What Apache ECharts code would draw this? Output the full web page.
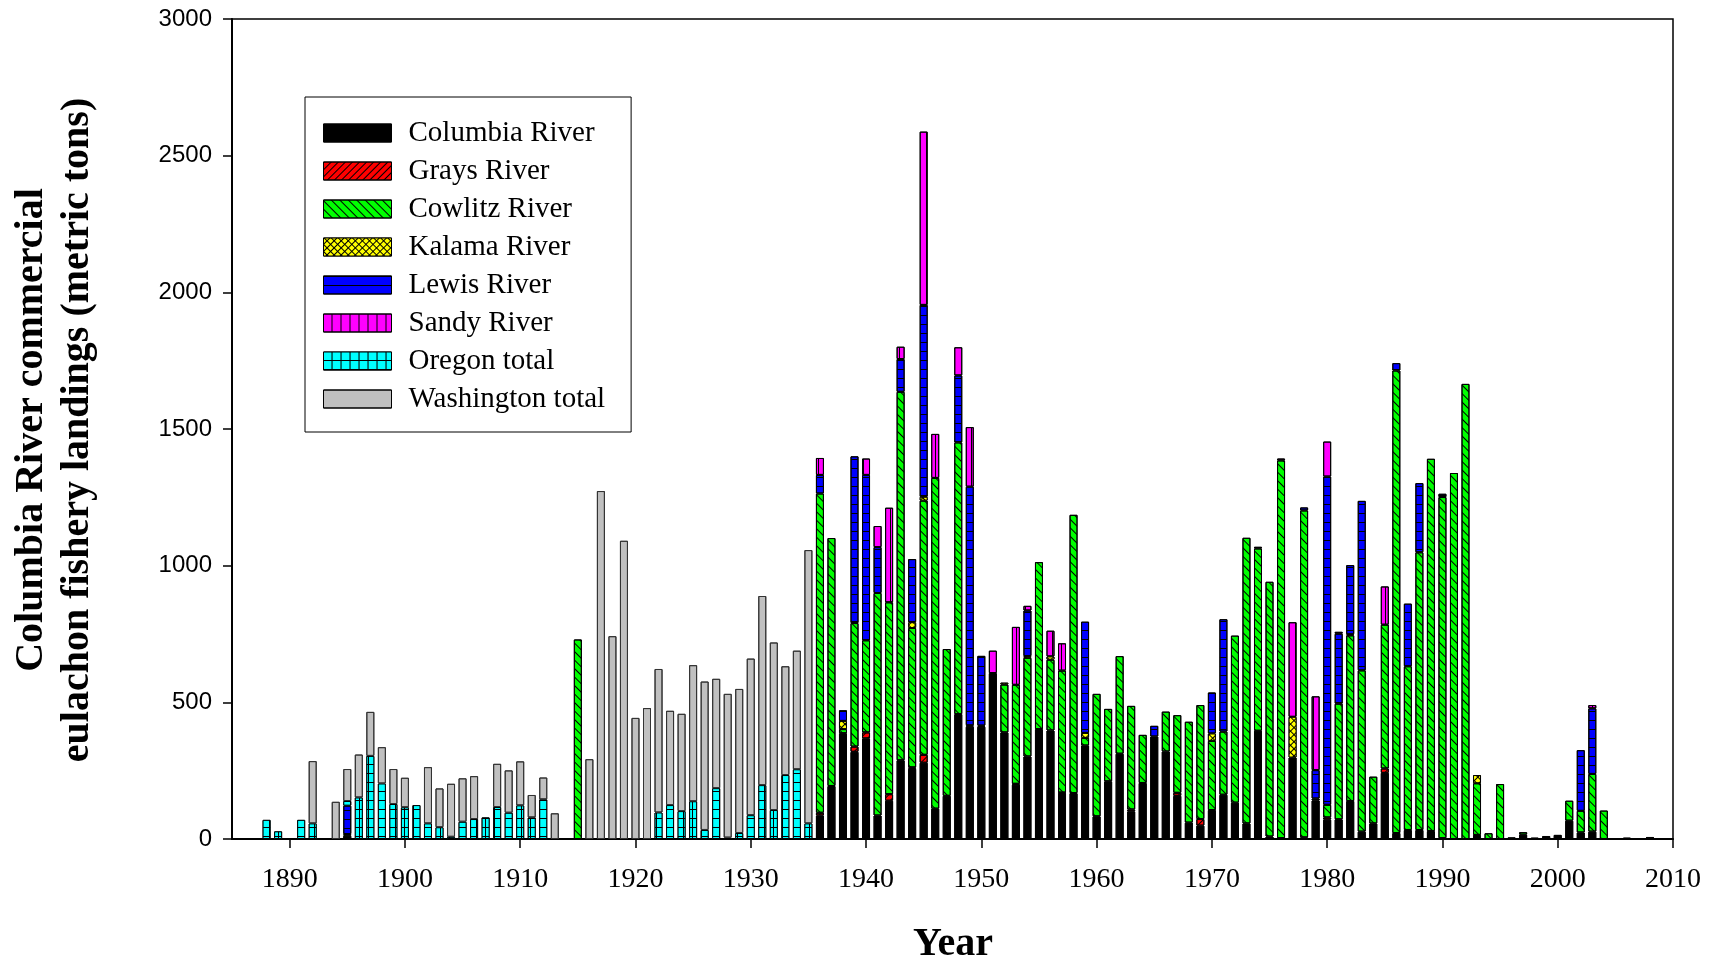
<!DOCTYPE html>
<html><head><meta charset="utf-8">
<script src="https://cdn.jsdelivr.net/npm/echarts@6/dist/echarts.min.js"></script>
<style>html,body{margin:0;padding:0;background:#fff}#c{width:1721px;height:961px}</style>
</head><body><div id="c"></div>
<script>
const firstYear = 1885, lastYear = 2010;
const tickYears = [1890, 1900, 1910, 1920, 1930, 1940, 1950, 1960, 1970, 1980, 1990, 2000, 2010];
const yTicks = [0, 500, 1000, 1500, 2000, 2500, 3000];

const columbia = [[1895,12],[1936,86],[1937,194],[1938,387],[1939,319],[1940,368],[1941,86],[1942,140],[1943,288],[1944,257],[1945,279],[1946,111],[1947,158],[1948,457],[1949,411],[1950,411],[1951,607],[1952,390],[1953,199],[1954,302],[1955,402],[1956,397],[1957,168],[1958,168],[1959,342],[1960,83],[1961,211],[1962,312],[1963,101],[1964,205],[1965,375],[1966,320],[1967,158],[1968,60],[1969,49],[1970,106],[1971,162],[1972,133],[1973,57],[1974,396],[1975,9],[1976,3],[1977,298],[1978,6],[1979,141],[1980,71],[1981,72],[1982,139],[1983,27],[1984,57],[1985,242],[1986,22],[1987,33],[1988,33],[1989,29],[1990,3],[1993,15],[1996,6],[1997,16],[1998,5],[1999,11],[2000,15],[2001,67],[2002,24],[2003,27],[2006,5],[2007,3],[2008,4]];
const grays = [[1936,10],[1939,19],[1940,22],[1942,24],[1944,5],[1945,29],[1949,5],[1950,4],[1953,3],[1957,2],[1963,7],[1967,11],[1969,24],[1980,8],[1985,16]];
const cowlitz = [[1895,6],[1915,730],[1936,1168],[1937,907],[1938,15],[1939,452],[1940,337],[1941,814],[1942,702],[1943,1348],[1944,510],[1945,930],[1946,1210],[1947,537],[1948,994],[1952,175],[1953,362],[1954,361],[1955,611],[1956,259],[1957,446],[1958,1018],[1959,28],[1960,448],[1961,265],[1962,357],[1963,379],[1964,176],[1966,146],[1967,284],[1968,369],[1969,417],[1970,253],[1971,231],[1972,611],[1973,1045],[1974,667],[1975,932],[1976,1382],[1978,1196],[1979,7],[1980,46],[1981,423],[1982,606],[1983,590],[1984,171],[1985,526],[1986,1692],[1987,599],[1988,1016],[1989,1362],[1990,1248],[1991,1339],[1992,1665],[1993,189],[1994,21],[1995,201],[1997,9],[2001,73],[2002,79],[2003,211],[2004,104],[2008,3]];
const kalama = [[1938,30],[1944,21],[1945,14],[1952,7],[1954,6],[1956,12],[1959,18],[1970,27],[1977,149],[1982,4],[1993,30]];
const lewis = [[1895,104],[1936,68],[1938,39],[1939,610],[1940,605],[1941,168],[1943,120],[1944,231],[1945,702],[1948,245],[1949,873],[1950,255],[1954,167],[1959,407],[1965,39],[1970,150],[1971,411],[1978,11],[1979,104],[1980,1201],[1981,256],[1982,253],[1983,620],[1986,27],[1987,229],[1988,253],[1990,12],[2002,222],[2003,240]];
const sandy = [[1936,62],[1940,60],[1941,77],[1942,346],[1943,45],[1945,634],[1946,161],[1948,103],[1949,218],[1951,82],[1953,212],[1954,17],[1956,94],[1957,100],[1974,6],[1976,7],[1977,346],[1979,270],[1980,128],[1981,7],[1985,140],[2003,12]];
const oregon = [[1888,70],[1889,28],[1891,70],[1892,57],[1895,17],[1896,152],[1897,304],[1898,203],[1899,128],[1900,116],[1901,124],[1902,57],[1903,43],[1904,8],[1905,63],[1906,73],[1907,79],[1908,117],[1909,96],[1910,123],[1911,79],[1912,145],[1922,97],[1923,124],[1924,102],[1925,138],[1926,33],[1927,186],[1928,5],[1929,22],[1930,87],[1931,197],[1932,106],[1933,234],[1934,255],[1935,57]];
const washington = [[1892,228],[1894,136],[1895,117],[1896,157],[1897,161],[1898,133],[1899,128],[1900,108],[1902,206],[1903,142],[1904,194],[1905,159],[1906,157],[1908,158],[1909,155],[1910,161],[1911,82],[1912,80],[1913,94],[1916,292],[1917,1273],[1918,742],[1919,1091],[1920,443],[1921,479],[1922,525],[1923,345],[1924,356],[1925,498],[1926,543],[1927,400],[1928,526],[1929,527],[1930,573],[1931,692],[1932,613],[1933,398],[1934,434],[1935,1000]];

const seriesNames = ['Columbia River','Grays River','Cowlitz River','Kalama River','Lewis River','Sandy River','Oregon total','Washington total'];
const seriesValues = [columbia, grays, cowlitz, kalama, lewis, sandy, oregon, washington];

const years = [];
for (let y = firstYear; y <= lastYear; y++) years.push(String(y));
function toSeries(pairs) {
  const arr = years.map(() => null);
  pairs.forEach(([y, v]) => { arr[y - firstYear] = v; });
  return arr;
}

const styles = [
  { color: '#000000', decal: { symbol: 'none' } },
  { color: '#FF0000', decal: { symbol: 'rect', symbolSize: 1, color: '#000', dashArrayX: [1, 0], dashArrayY: [1, 4], rotation: -Math.PI / 4 } },
  { color: '#00FF00', decal: { symbol: 'rect', symbolSize: 1, color: '#000', dashArrayX: [1, 0], dashArrayY: [1, 5], rotation: Math.PI / 4 } },
  { color: '#FFFF00', decal: { symbol: 'rect', symbolSize: 1, color: '#FFFF00', backgroundColor: '#000', dashArrayX: [4, 1], dashArrayY: [4, 1], rotation: Math.PI / 4 } },
  { color: '#0000FF', decal: { symbol: 'rect', symbolSize: 1, color: '#000', dashArrayX: [1, 0], dashArrayY: [1, 8] } },
  { color: '#FF00FF', decal: { symbol: 'rect', symbolSize: 1, color: '#000', dashArrayX: [1, 0], dashArrayY: [1, 8], rotation: Math.PI / 2 } },
  { color: '#00FFFF', decal: { symbol: 'rect', symbolSize: 1, color: '#00FFFF', backgroundColor: '#000', dashArrayX: [8, 1], dashArrayY: [8, 1] } },
  { color: '#C0C0C0', decal: { symbol: 'none' } }
];

const series = seriesNames.map((name, i) => ({
  name: name,
  type: 'bar',
  stack: 'total',
  barWidth: 8,
  data: toSeries(seriesValues[i]),
  itemStyle: { color: styles[i].color, decal: styles[i].decal, borderColor: i === 7 ? '#333' : '#000', borderWidth: 1 },
  emphasis: { disabled: true },
  animation: false
}));

const chart = echarts.init(document.getElementById('c'), null, { renderer: 'canvas' });
chart.setOption({
  backgroundColor: '#fff',
  animation: false,
  grid: { left: 232, right: 48, top: 19, bottom: 122, show: true, borderColor: '#000', borderWidth: 1.5, containLabel: false },
  legend: {
    orient: 'vertical',
    left: 305, top: 97,
    data: seriesNames,
    icon: 'rect',
    itemWidth: 68, itemHeight: 18, itemGap: 8,
    padding: [21, 26, 18, 18],
    borderColor: '#000', borderWidth: 1,
    selectedMode: false,
    itemStyle: { borderColor: '#000', borderWidth: 1 },
    textStyle: { fontFamily: 'Liberation Serif', fontSize: 29, color: '#000', lineHeight: 30, padding: [0, 0, 0, 12] }
  },
  xAxis: {
    type: 'category',
    data: years,
    boundaryGap: false,
    axisLine: { show: true, lineStyle: { color: '#000', width: 2 } },
    axisTick: { show: true, length: 9, lineStyle: { color: '#000', width: 1.5 }, interval: (idx, val) => tickYears.includes(Number(val)) },
    axisLabel: { interval: (idx, val) => tickYears.includes(Number(val)), fontFamily: 'Liberation Serif', fontSize: 28, color: '#000', margin: 27 },
    splitLine: { show: false }
  },
  yAxis: {
    type: 'value',
    min: yTicks[0], max: yTicks[yTicks.length - 1], interval: 500,
    axisLine: { show: true, lineStyle: { color: '#000', width: 2 } },
    axisTick: { show: true, length: 9, lineStyle: { color: '#000', width: 1.5 } },
    axisLabel: { fontFamily: 'Liberation Sans', fontSize: 24, color: '#000', margin: 20, formatter: (v) => String(v) },
    splitLine: { show: false }
  },
  graphic: [
    { type: 'text', x: 953, y: 945, style: { text: 'Year', font: 'bold 40px "Liberation Serif"', fill: '#000', align: 'center', verticalAlign: 'middle' } },
    { type: 'text', x: 55, y: 430, rotation: Math.PI / 2, style: { text: 'Columbia River commercial\neulachon fishery landings (metric tons)', font: 'bold 40px "Liberation Serif"', fill: '#000', align: 'center', verticalAlign: 'middle', lineHeight: 46 } }
  ],
  series: series
});
</script>
</body></html>
